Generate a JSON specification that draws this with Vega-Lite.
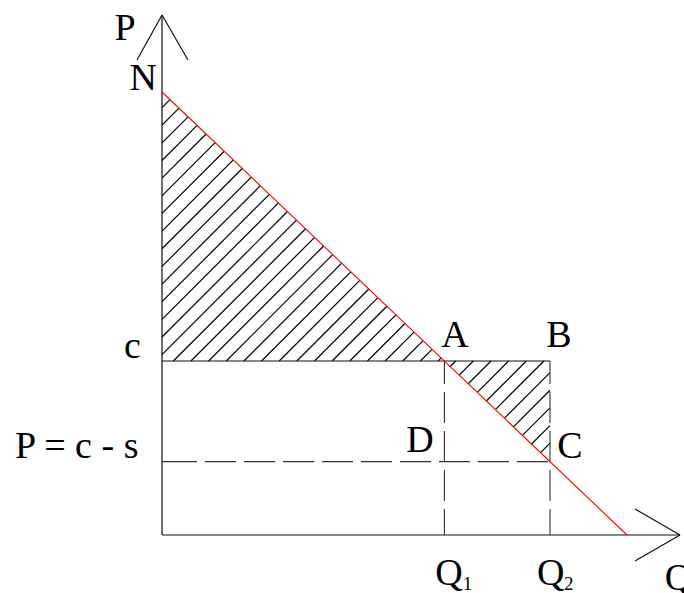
{
  "$schema": "https://vega.github.io/schema/vega-lite/v6.json",
  "width": 684,
  "height": 593,
  "padding": 0,
  "autosize": {"type": "none"},
  "background": "white",
  "config": {"view": {"stroke": null}},
  "datasets": {
    "hatch": [
      {"q": 0, "p": 427.45, "q2": 7.96, "p2": 435.42},
      {"q": 0, "p": 409.8, "q2": 17.0, "p2": 426.8},
      {"q": 0, "p": 392.15, "q2": 26.04, "p2": 418.19},
      {"q": 0, "p": 374.5, "q2": 35.08, "p2": 409.58},
      {"q": 0, "p": 356.85, "q2": 44.12, "p2": 400.97},
      {"q": 0, "p": 339.2, "q2": 53.16, "p2": 392.36},
      {"q": 0, "p": 321.55, "q2": 62.2, "p2": 383.75},
      {"q": 0, "p": 303.9, "q2": 71.24, "p2": 375.14},
      {"q": 0, "p": 286.25, "q2": 80.27, "p2": 366.52},
      {"q": 0, "p": 268.6, "q2": 89.31, "p2": 357.91},
      {"q": 0, "p": 250.95, "q2": 98.35, "p2": 349.3},
      {"q": 0, "p": 233.3, "q2": 107.39, "p2": 340.69},
      {"q": 0, "p": 215.65, "q2": 116.43, "p2": 332.08},
      {"q": 0, "p": 198.0, "q2": 125.47, "p2": 323.47},
      {"q": 0, "p": 180.35, "q2": 134.51, "p2": 314.86},
      {"q": 11.3, "p": 174, "q2": 143.55, "p2": 306.25},
      {"q": 28.95, "p": 174, "q2": 152.58, "p2": 297.63},
      {"q": 46.6, "p": 174, "q2": 161.62, "p2": 289.02},
      {"q": 64.25, "p": 174, "q2": 170.66, "p2": 280.41},
      {"q": 81.9, "p": 174, "q2": 179.7, "p2": 271.8},
      {"q": 99.55, "p": 174, "q2": 188.74, "p2": 263.19},
      {"q": 117.2, "p": 174, "q2": 197.78, "p2": 254.58},
      {"q": 134.85, "p": 174, "q2": 206.82, "p2": 245.97},
      {"q": 152.5, "p": 174, "q2": 215.86, "p2": 237.36},
      {"q": 170.15, "p": 174, "q2": 224.89, "p2": 228.74},
      {"q": 187.8, "p": 174, "q2": 233.93, "p2": 220.13},
      {"q": 205.45, "p": 174, "q2": 242.97, "p2": 211.52},
      {"q": 223.1, "p": 174, "q2": 252.01, "p2": 202.91},
      {"q": 240.75, "p": 174, "q2": 261.05, "p2": 194.3},
      {"q": 258.4, "p": 174, "q2": 270.09, "p2": 185.69},
      {"q": 276.05, "p": 174, "q2": 279.13, "p2": 177.08},
      {"q": 288.17, "p": 168.47, "q2": 293.7, "p2": 174},
      {"q": 297.2, "p": 159.85, "q2": 311.35, "p2": 174},
      {"q": 306.24, "p": 151.24, "q2": 329.0, "p2": 174},
      {"q": 315.28, "p": 142.63, "q2": 346.65, "p2": 174},
      {"q": 324.32, "p": 134.02, "q2": 364.3, "p2": 174},
      {"q": 333.36, "p": 125.41, "q2": 381.95, "p2": 174},
      {"q": 342.4, "p": 116.8, "q2": 388, "p2": 162.4},
      {"q": 351.44, "p": 108.19, "q2": 388, "p2": 144.75},
      {"q": 360.48, "p": 99.58, "q2": 388, "p2": 127.1},
      {"q": 369.52, "p": 90.97, "q2": 388, "p2": 109.45},
      {"q": 378.55, "p": 82.35, "q2": 388, "p2": 91.8}
    ],
    "solid": [
      {"q": 0, "p": 0, "q2": 0, "p2": 520},
      {"q": 0, "p": 0, "q2": 518, "p2": 0},
      {"q": -25, "p": 475, "q2": 0, "p2": 520},
      {"q": 26, "p": 475, "q2": 0, "p2": 520},
      {"q": 473, "p": 26, "q2": 518, "p2": 0},
      {"q": 473, "p": -26, "q2": 518, "p2": 0},
      {"q": 0, "p": 174, "q2": 388, "p2": 174}
    ],
    "dashV": [
      {"q": 282.4, "p": 174, "q2": 282.4, "p2": 0},
      {"q": 388, "p": 174, "q2": 388, "p2": 0}
    ],
    "dashH": [
      {"q": 0, "p": 73.4, "q2": 388, "p2": 73.4}
    ],
    "demand": [
      {"q": 0, "p": 443, "q2": 465, "p2": 0}
    ],
    "labels": [
      {"label": "P", "q": -37, "p": 495},
      {"label": "N", "q": -18.7, "p": 445},
      {"label": "c", "q": -29.5, "p": 176.7},
      {"label": "P = c - s", "q": -85.3, "p": 76.7},
      {"label": "A", "q": 293, "p": 188.3},
      {"label": "B", "q": 397, "p": 188.3},
      {"label": "D", "q": 258, "p": 83.3},
      {"label": "C", "q": 408, "p": 77},
      {"label": "Q", "q": 287, "p": -50},
      {"label": "Q", "q": 388.7, "p": -50},
      {"label": "Q", "q": 516.5, "p": -55}
    ],
    "subs": [
      {"label": "1", "q": 305.5, "p": -55},
      {"label": "2", "q": 406.7, "p": -55}
    ]
  },
  "encoding": {
    "x": {"field": "q", "type": "quantitative", "scale": {"domain": [-162, 522], "nice": false, "zero": false}, "axis": null},
    "y": {"field": "p", "type": "quantitative", "scale": {"domain": [-58, 535], "nice": false, "zero": false}, "axis": null}
  },
  "layer": [
    {
      "data": {"name": "hatch"},
      "mark": {"type": "rule", "color": "#000000", "strokeWidth": 1.2},
      "encoding": {"x2": {"field": "q2"}, "y2": {"field": "p2"}}
    },
    {
      "data": {"name": "solid"},
      "mark": {"type": "rule", "color": "#111111", "strokeWidth": 1.2},
      "encoding": {"x2": {"field": "q2"}, "y2": {"field": "p2"}}
    },
    {
      "data": {"name": "dashV"},
      "mark": {"type": "rule", "color": "#333333", "strokeWidth": 1.1, "strokeDash": [23, 8, 31, 8, 31, 8, 31, 8, 31, 8]},
      "encoding": {"x2": {"field": "q2"}, "y2": {"field": "p2"}}
    },
    {
      "data": {"name": "dashH"},
      "mark": {"type": "rule", "color": "#333333", "strokeWidth": 1.1, "strokeDash": [35, 8, 31, 8, 31, 8, 31, 8, 31, 8, 31, 8, 31, 8, 31, 8, 31, 8, 31, 8, 31, 8]},
      "encoding": {"x2": {"field": "q2"}, "y2": {"field": "p2"}}
    },
    {
      "data": {"name": "demand"},
      "mark": {"type": "rule", "color": "#ff0000", "strokeWidth": 1.1},
      "encoding": {"x2": {"field": "q2"}, "y2": {"field": "p2"}}
    },
    {
      "data": {"name": "labels"},
      "mark": {"type": "text", "font": "Liberation Serif", "fontSize": 38, "align": "center", "baseline": "alphabetic", "color": "#000000"},
      "encoding": {"text": {"field": "label"}}
    },
    {
      "data": {"name": "subs"},
      "mark": {"type": "text", "font": "Liberation Serif", "fontSize": 19, "align": "center", "baseline": "alphabetic", "color": "#000000"},
      "encoding": {"text": {"field": "label"}}
    }
  ]
}
